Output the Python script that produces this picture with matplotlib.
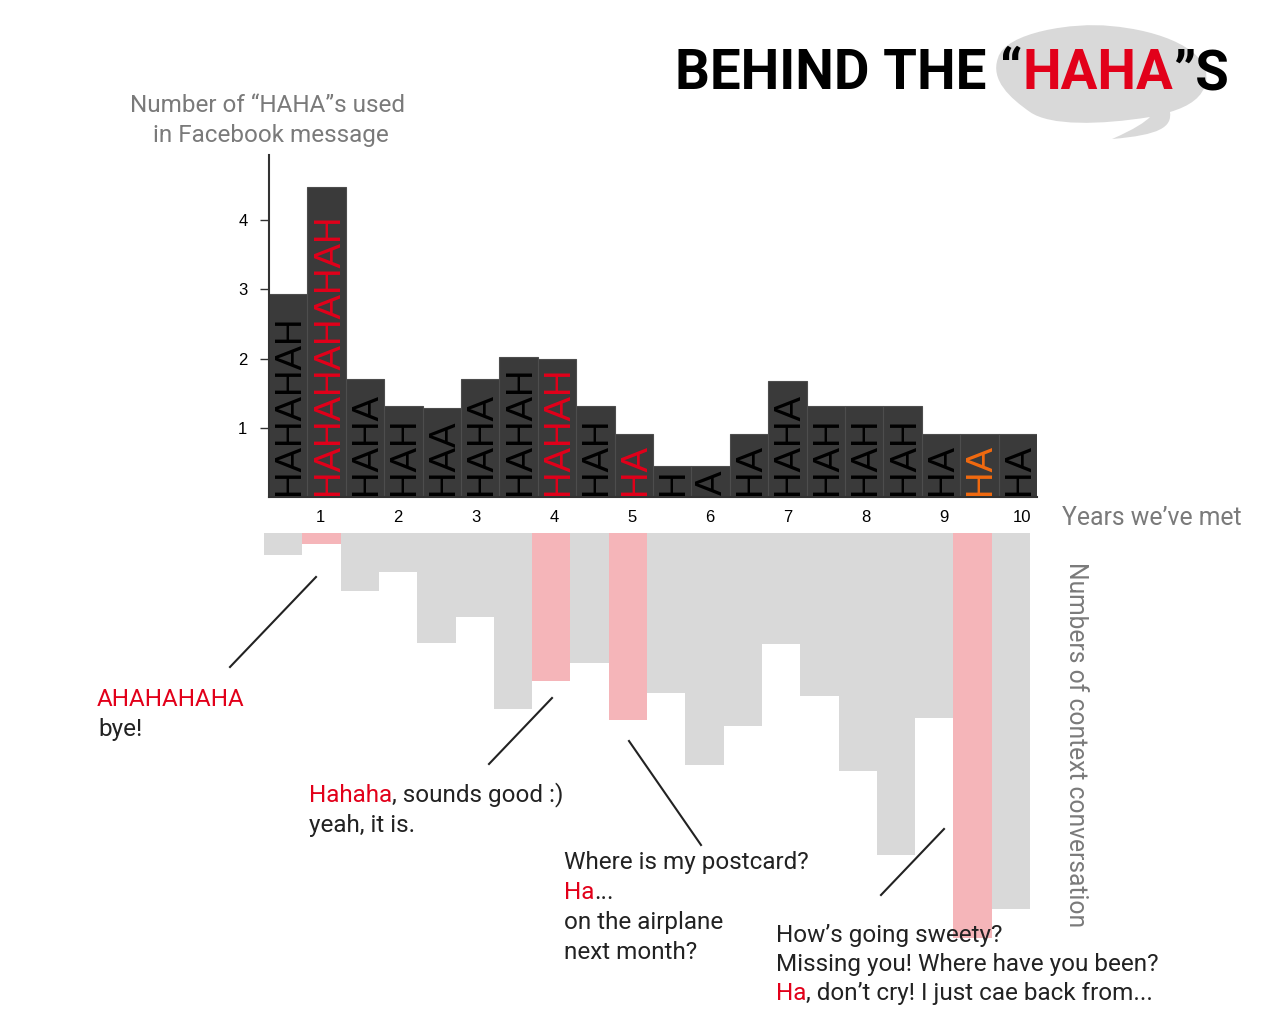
import matplotlib.pyplot as plt
import numpy as np
from matplotlib.path import Path
from matplotlib.patches import PathPatch

# half-year periods, 10 years
haha_words = ['HAHAHAH', 'HAHAHAHAHAH', 'HAHA', 'HAH', 'HAA', 'HAHA', 'HAHAH', 'HAHAH', 'HAH', 'HA',
              'H', 'A', 'HA', 'HAHA', 'HAH', 'HAH', 'HAH', 'HA', 'HA', 'HA']
haha_counts = [2.94, 4.48, 1.71, 1.32, 1.29, 1.70, 2.02, 2.00, 1.32, 0.91,
               0.45, 0.45, 0.91, 1.67, 1.32, 1.32, 1.32, 0.91, 0.91, 0.91]
context_counts = [2.2, 1.1, 5.8, 3.9, 11.0, 8.4, 17.6, 14.8, 13.0, 18.7,
                  16.0, 23.2, 19.3, 11.1, 16.3, 23.8, 32.2, 18.5, 40.5, 37.6]
quoted = {1: '#e2001a', 7: '#e2001a', 9: '#e2001a', 18: '#f26a0f'}
year_labels = ['1', '2', '3', '4', '5', '6', '7', '8', '9', '10']
y_ticks = [1, 2, 3, 4]

RED = '#e2001a'
INK = '#222222'
GREY_TXT = '#7a7a7a'
BAR = '#3a3a3a'
W, H = 1280, 1024
ann_font = ['Roboto', 'DejaVu Sans']

fig = plt.figure(figsize=(12.8, 10.24), dpi=100, facecolor='white')

# ---- bottom chart (hanging bars), from y=533px down
bx = fig.add_axes([264 / W, 24 / H, 766 / W, (H - 533 - 24) / H])
x = np.arange(len(haha_counts))
cols = ['#f5b5b9' if i in quoted else '#d9d9d9' for i in range(len(context_counts))]
bx.bar(x, context_counts, width=1.0, align='edge', color=cols, edgecolor='none')
bx.set_xlim(0, 20)
bx.set_ylim((H - 533 - 24) / 10, 0)
bx.axis('off')

# ---- top chart
ax = fig.add_axes([269 / W, 1 - 497 / H, 768 / W, 342 / H])
ax.bar(x, haha_counts, width=1.0, align='edge', color=BAR, edgecolor='#4d4d4d', linewidth=0.8)
for i, (word, n) in enumerate(zip(haha_words, haha_counts)):
    ax.text(i + 0.54, 0.03, word, rotation=90, ha='center', va='bottom',
            fontsize=26.5, family='Liberation Sans', color=quoted.get(i, 'black'))
ax.set_xlim(0, 20)
ax.set_ylim(0, 342 / 69.2)
ax.set_yticks(y_ticks)
ax.set_yticklabels([str(t) for t in y_ticks], family='Liberation Sans', fontsize=12)
ax.set_xticks(1.33 + 2.03 * np.arange(10))
ax.set_xticklabels(year_labels, family='Liberation Sans', fontsize=12)
ax.tick_params(axis='x', length=0, pad=9)
ax.tick_params(axis='y', length=6.5, width=1, pad=9, color='#333333')
for s in ['top', 'right']:
    ax.spines[s].set_visible(False)
for s in ['left', 'bottom']:
    ax.spines[s].set_color('#333333')
    ax.spines[s].set_linewidth(1.5)
ax.set_facecolor('none')

# ---- overlay in pixel coords for texts and call-out lines
ov = fig.add_axes([0, 0, 1, 1])
ov.set_xlim(0, W)
ov.set_ylim(H, 0)
ov.axis('off')

bubble = Path(
    [(998, 58),
     (1005, 32), (1075, 22), (1110, 26),
     (1160, 30), (1212, 50), (1206, 82),
     (1203, 97), (1190, 106), (1170, 112),
     (1172, 127), (1160, 135), (1112, 139),
     (1135, 129), (1145, 122), (1150, 117),
     (1100, 125), (1050, 126), (1030, 112),
     (1010, 98), (990, 80), (998, 58)],
    [Path.MOVETO] + [Path.CURVE4] * 21)
ov.add_patch(PathPatch(bubble, facecolor='#d9d9d9', edgecolor='none', zorder=1))


def say(x0, y0, parts, size=17.5, color=INK, **kw):
    prev = None
    for txt, col in parts:
        if prev is None:
            prev = ov.text(x0, y0, txt, color=col, fontsize=size, family=ann_font,
                           ha='left', va='baseline', zorder=3, **kw)
        else:
            prev = ov.annotate(txt, xy=(1, 0), xycoords=prev, color=col, fontsize=size,
                               family=ann_font, ha='left', va='bottom', zorder=3, **kw)
    return prev


say(675, 89, [('BEHIND THE \u201c', 'black'), ('HAHA', RED), ('\u201dS', 'black')],
    size=39.3, fontweight='bold')

ov.text(268, 112, 'Number of \u201cHAHA\u201ds used', color=GREY_TXT, fontsize=17.5,
        family=ann_font, ha='center', va='baseline')
ov.text(271, 142, 'in Facebook message', color=GREY_TXT, fontsize=17.5,
        family=ann_font, ha='center', va='baseline')
ov.text(1062, 525, 'Years we\u2019ve met', color=GREY_TXT, fontsize=17.8,
        family=ann_font, ha='left', va='baseline')
ov.text(1076, 562, 'Numbers of context conversation', color=GREY_TXT, fontsize=17.7,
        family=ann_font, rotation=270, ha='center', va='top')

say(97, 706, [('AHAHAHAHA', RED)])
say(98, 736, [('bye!', INK)])
say(309, 802, [('Hahaha', RED), (', sounds good :)', INK)])
say(309, 832, [('yeah, it is.', INK)])
say(564, 869, [('Where is my postcard?', INK)])
say(564, 899, [('Ha', RED), ('...', INK)])
say(564, 929, [('on the airplane', INK)])
say(564, 959, [('next month?', INK)])
say(776, 942, [('How\u2019s going sweety?', INK)])
say(776, 971, [('Missing you! Where have you been?', INK)])
say(776, 1000, [('Ha', RED), (', don\u2019t cry! I just cae back from...', INK)])

for (x1, y1), (x2, y2) in [((316, 577), (230, 667)), ((552, 698), (489, 764)),
                           ((629, 741), (701, 845)), ((944, 829), (881, 895))]:
    ov.plot([x1, x2], [y1, y2], color='#222222', lw=1.5, zorder=3)

fig.savefig('out.png', dpi=100, facecolor='white')
